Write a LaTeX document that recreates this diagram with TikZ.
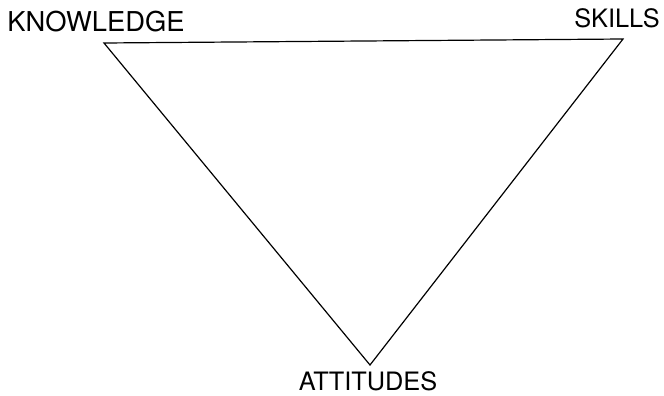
\documentclass[tikz,border=0pt]{standalone}
\usepackage{fontspec}
\setmainfont{TeX Gyre Heros}
\usepackage{tikz}
\usetikzlibrary{positioning}

\begin{document}
\begin{tikzpicture}[
  x=0.75pt,y=-0.75pt,
  lbl/.style={inner sep=0pt,font=\fontsize{19}{22}\selectfont},
  biglbl/.style={lbl,font=\fontsize{20.5}{24}\selectfont},
  side/.style={line width=0.9pt,line join=miter}
]
\useasboundingbox (0,0) rectangle (664,396);
\coordinate (k) at (104,43);
\coordinate (s) at (623,39);
\coordinate (a) at (370,365);
\node[biglbl] (know) at (96,22) {KNOWLEDGE};
\node[lbl] (skill) at (617,18) {SKILLS};
\node[lbl] (att) at (368,381) {ATTITUDES};
\draw[side] (k) -- (s) -- (a) -- cycle;
\end{tikzpicture}
\end{document}
